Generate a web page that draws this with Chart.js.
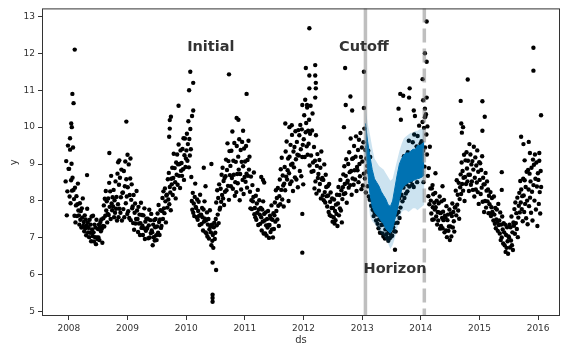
<!DOCTYPE html>
<html>
<head>
<meta charset="utf-8">
<script src="https://cdn.jsdelivr.net/npm/chart.js@4.4.0/dist/chart.umd.min.js"></script>
<style>
  html, body { margin: 0; padding: 0; background: #fff; }
  canvas { display: block; }
</style>
</head>
<body>
<canvas id="cv" width="564" height="349"></canvas>
<script>
// observed y, one row per month, readings spread through the month
const obsDec2007 = [8.53, 9.08, 7.61, 8.26, 9.5, 8.87];
const obs2008 = [
  [8.87, 8.12, 9.39, 7.94, 8.56, 9.01, 8.28, 8.63, 9.45, 8.3],
  [8.05, 7.6, 8.36, 7.42, 7.88, 8.13, 7.59, 7.91, 8.47, 7.74],
  [7.61, 7.36, 7.94, 7.49, 7.73, 7.28, 7.8, 7.55, 8.07, 7.32],
  [7.43, 7.18, 7.61, 7.26, 7.5, 7.07, 7.34, 7.79, 7.42, 7.15],
  [7.27, 7.02, 7.49, 7.14, 7.36, 6.91, 7.58, 7.23, 7.05, 7.6],
  [7.15, 6.9, 7.36, 7.02, 7.28, 6.83, 7.49, 7.01, 6.97, 7.24],
  [7.01, 7.36, 6.94, 7.29, 7.43, 7.18, 7.5, 7.25, 6.87, 7.32],
  [7.53, 7.88, 7.31, 8.06, 7.6, 8.27, 7.74, 7.99, 7.42, 7.65],
  [8.07, 7.62, 8.49, 7.84, 8.26, 7.51, 8.68, 7.93, 7.75, 8.1],
  [7.85, 8.3, 7.56, 8.02, 7.68, 8.53, 7.79, 8.11, 7.47, 8.74],
  [7.91, 7.56, 8.44, 7.79, 8.63, 7.68, 8.1, 8.85, 7.47, 8.22],
  [8.23, 7.78, 8.81, 7.56, 8.4, 9.07, 7.94, 8.59, 8.12, 7.65]
];
const obs2009 = [
  [8.37, 7.72, 8.99, 7.54, 8.16, 8.61, 7.48, 8.03, 8.45, 7.8],
  [7.85, 7.4, 8.16, 7.22, 7.68, 7.93, 7.39, 7.51, 8.27, 7.74],
  [7.51, 7.16, 7.84, 7.39, 7.63, 7.08, 7.4, 7.95, 7.27, 7.62],
  [7.33, 7.08, 7.61, 7.26, 7.8, 6.97, 7.44, 7.19, 7.52, 7.25],
  [7.27, 7.52, 6.99, 7.34, 7.76, 7.01, 7.48, 7.13, 7.65, 7.2],
  [7.15, 6.8, 7.36, 7.02, 7.48, 6.93, 7.29, 7.51, 7.07, 6.94],
  [7.31, 7.66, 7.14, 7.89, 7.43, 7.08, 7.5, 7.75, 7.27, 7.32],
  [7.73, 8.08, 7.51, 8.26, 7.8, 7.67, 8.34, 7.99, 7.42, 8.15],
  [8.17, 7.82, 8.59, 8.04, 8.76, 7.91, 8.38, 8.23, 7.75, 8.6],
  [8.45, 8.9, 8.16, 8.62, 9.28, 8.33, 8.89, 8.51, 8.07, 9.04],
  [8.71, 9.26, 8.44, 8.99, 9.53, 8.68, 9.0, 8.35, 9.37, 8.82],
  [9.03, 8.68, 9.41, 8.86, 9.7, 8.57, 9.24, 9.69, 8.92, 9.15]
];
const obs2010 = [
  [9.37, 9.82, 9.09, 9.54, 10.16, 8.91, 9.68, 9.23, 9.95, 9.4],
  [8.65, 8.0, 7.76, 8.22, 7.68, 7.93, 7.59, 8.11, 8.47, 7.84],
  [7.81, 7.56, 8.04, 7.49, 7.73, 7.98, 7.6, 7.35, 8.17, 7.62],
  [7.63, 7.38, 7.81, 7.56, 7.2, 7.77, 7.44, 7.99, 7.52, 7.15],
  [7.47, 7.12, 7.69, 7.04, 7.36, 7.51, 6.98, 7.23, 7.75, 7.3],
  [7.15, 6.8, 7.36, 6.92, 7.08, 6.73, 7.29, 7.41, 6.97, 7.14],
  [7.51, 7.96, 7.34, 8.29, 7.63, 8.08, 7.4, 8.45, 7.77, 7.82],
  [8.33, 7.98, 8.71, 8.16, 8.9, 8.07, 8.54, 7.89, 8.62, 8.25],
  [8.67, 9.12, 8.29, 8.84, 9.56, 8.41, 9.08, 8.03, 9.35, 8.7],
  [8.95, 8.4, 9.36, 8.62, 9.88, 8.33, 9.09, 8.71, 9.57, 8.14],
  [8.51, 9.06, 8.24, 9.49, 8.73, 8.48, 9.2, 8.85, 9.67, 8.02],
  [8.73, 9.38, 8.31, 9.06, 9.6, 8.57, 8.94, 8.19, 9.42, 8.65]
];
const obs2011 = [
  [9.07, 8.52, 9.49, 8.74, 8.36, 9.11, 8.68, 9.63, 8.85, 9.2],
  [8.25, 7.8, 8.66, 8.02, 7.78, 8.43, 7.99, 8.11, 8.77, 7.64],
  [7.81, 7.56, 8.14, 7.49, 7.93, 7.68, 8.3, 7.35, 7.77, 8.02],
  [7.63, 7.38, 7.81, 7.56, 7.2, 7.77, 7.44, 7.99, 7.12, 7.65],
  [7.47, 7.12, 7.69, 7.34, 7.06, 7.51, 7.28, 7.73, 7.35, 7.0],
  [7.35, 7.6, 7.16, 7.52, 7.88, 7.23, 7.49, 7.01, 7.67, 7.24],
  [7.61, 7.96, 7.44, 8.29, 7.73, 8.08, 7.5, 8.35, 7.87, 7.32],
  [8.13, 8.58, 7.91, 8.86, 8.3, 9.17, 8.04, 8.69, 8.42, 7.85],
  [8.47, 8.92, 8.29, 9.34, 8.66, 9.61, 8.58, 8.83, 9.15, 8.0],
  [8.75, 9.2, 8.46, 9.52, 8.98, 8.53, 9.79, 9.01, 8.27, 9.34],
  [8.91, 9.46, 8.64, 9.89, 9.13, 8.58, 9.6, 9.25, 8.37, 9.92],
  [9.23, 9.78, 8.81, 10.06, 9.4, 8.67, 9.94, 9.19, 9.52, 8.45]
];
const obs2012 = [
  [9.67, 10.32, 9.19, 10.74, 9.86, 10.11, 9.48, 10.53, 9.25, 9.9],
  [9.55, 10.2, 8.96, 9.82, 10.58, 9.23, 8.79, 9.91, 10.37, 9.04],
  [8.81, 9.46, 8.34, 9.09, 8.53, 9.78, 8.2, 8.95, 9.27, 8.62],
  [8.73, 8.28, 9.11, 8.46, 8.9, 8.07, 9.34, 8.59, 8.62, 8.15],
  [8.57, 8.02, 8.99, 8.24, 7.96, 8.71, 8.38, 8.13, 7.85, 8.4],
  [8.15, 7.7, 8.46, 7.62, 7.98, 8.23, 7.59, 7.81, 8.07, 7.44],
  [7.81, 7.56, 8.04, 7.39, 7.73, 7.48, 7.9, 7.65, 8.17, 7.32],
  [7.93, 8.38, 7.61, 8.16, 7.8, 8.57, 7.74, 8.29, 7.42, 8.05],
  [8.37, 8.72, 8.19, 8.94, 8.46, 8.21, 8.68, 9.13, 7.95, 8.5],
  [8.55, 9.0, 8.36, 9.32, 8.78, 8.43, 9.69, 8.81, 8.17, 9.14],
  [8.61, 9.16, 8.44, 9.49, 8.83, 8.58, 9.2, 9.75, 8.27, 8.92],
  [8.83, 9.38, 8.51, 9.66, 9.0, 8.67, 9.84, 9.19, 8.32, 9.45]
];
const obs2013 = [
  [9.07, 8.42, 9.59, 8.74, 9.96, 8.61, 9.38, 8.23, 9.15, 8.8],
  [8.95, 8.4, 9.36, 8.12, 8.78, 8.03, 9.19, 8.51, 7.87, 8.34],
  [8.01, 7.76, 8.34, 7.59, 7.93, 7.68, 8.2, 7.85, 7.47, 8.12],
  [7.63, 7.38, 7.81, 7.26, 7.5, 7.77, 7.14, 7.49, 7.92, 7.35],
  [7.47, 7.12, 7.69, 7.04, 7.36, 7.51, 6.98, 7.23, 7.75, 7.1],
  [7.25, 7.0, 7.46, 6.92, 7.18, 7.33, 6.99, 7.11, 7.57, 7.04],
  [7.31, 7.06, 7.54, 7.29, 7.63, 7.18, 7.4, 7.75, 7.17, 7.82],
  [7.63, 7.98, 7.41, 8.26, 7.7, 8.07, 7.54, 8.49, 7.82, 8.15],
  [8.17, 8.62, 7.99, 8.94, 8.36, 9.21, 8.08, 8.53, 8.75, 8.2],
  [8.45, 8.9, 8.26, 9.32, 8.68, 9.63, 8.39, 8.81, 9.07, 8.54],
  [8.71, 9.26, 8.44, 9.59, 8.93, 8.38, 9.8, 9.05, 8.67, 9.32],
  [8.83, 9.48, 8.51, 9.76, 9.1, 8.67, 10.04, 9.29, 8.92, 9.55]
];
const obs2014 = [
  [9.17, 9.62, 8.79, 10.14, 9.36, 8.51, 9.98, 8.93, 9.45, 10.3],
  [10.35, 9.8, 9.26, 10.02, 8.68, 8.13, 8.89, 7.91, 9.47, 8.34],
  [8.01, 7.66, 8.34, 7.49, 7.83, 8.18, 7.5, 7.95, 7.77, 8.22],
  [7.83, 7.58, 8.01, 7.36, 7.7, 7.47, 7.94, 7.69, 8.12, 7.25],
  [7.67, 7.32, 7.99, 7.54, 7.26, 7.71, 7.48, 8.03, 7.15, 7.6],
  [7.55, 7.2, 7.86, 7.02, 7.48, 7.63, 7.19, 7.31, 7.77, 6.94],
  [7.31, 7.66, 7.04, 7.59, 7.93, 7.28, 7.7, 7.45, 7.17, 7.82],
  [7.83, 8.28, 7.61, 8.56, 7.9, 8.17, 7.74, 8.49, 7.52, 8.05],
  [8.37, 8.72, 8.19, 9.04, 8.46, 8.81, 8.28, 8.63, 9.25, 8.0],
  [8.65, 9.1, 8.46, 9.32, 8.88, 8.53, 9.09, 8.71, 8.27, 9.54],
  [8.71, 9.26, 8.44, 8.99, 8.53, 9.08, 8.3, 8.85, 9.47, 8.12],
  [8.63, 9.18, 8.31, 8.96, 8.5, 9.37, 8.24, 8.79, 7.92, 9.05]
];
const obs2015 = [
  [8.57, 9.02, 8.19, 8.84, 8.36, 9.21, 7.98, 8.63, 8.45, 7.7],
  [8.45, 8.0, 8.76, 7.82, 8.28, 8.53, 7.99, 8.31, 7.67, 8.14],
  [7.91, 7.66, 8.24, 7.59, 7.83, 8.08, 7.7, 7.65, 7.47, 8.12],
  [7.63, 7.38, 7.81, 7.26, 7.5, 7.77, 7.44, 7.19, 7.92, 7.35],
  [7.47, 7.12, 7.69, 6.94, 7.36, 7.01, 7.58, 7.23, 6.85, 7.4],
  [7.15, 6.8, 7.36, 6.62, 7.08, 6.73, 7.29, 6.91, 6.57, 7.04],
  [7.01, 7.36, 6.74, 7.29, 6.93, 7.58, 6.8, 7.15, 6.67, 7.42],
  [7.33, 7.78, 7.11, 7.96, 7.4, 7.67, 7.24, 8.09, 7.02, 7.55],
  [7.87, 8.22, 7.69, 8.54, 7.96, 8.31, 7.78, 8.13, 7.45, 8.6],
  [8.15, 7.7, 8.56, 7.92, 8.38, 7.53, 8.79, 8.01, 7.37, 8.84],
  [8.31, 7.86, 8.74, 8.09, 8.53, 7.68, 8.9, 8.25, 7.47, 9.12],
  [8.43, 8.98, 8.01, 9.26, 8.6, 7.77, 9.04, 8.39, 7.32, 8.75]
];
const obsJan2016 = [8.57, 7.92, 9.09, 8.24, 7.66, 8.81, 8.38];

// isolated readings away from the main cloud: [date as year, y]
const spikes = [
  [2008.02, 9.7], [2008.04, 10.1], [2008.05, 10.0], [2008.06, 10.9], [2008.08, 10.65], [2008.1, 12.1],
  [2008.31, 8.7], [2008.69, 9.3], [2008.84, 9.05], [2008.86, 9.1], [2008.98, 10.15], [2009.0, 9.25], [2009.05, 9.15],
  [2009.71, 9.74], [2009.72, 9.96], [2009.72, 10.19], [2009.74, 10.28], [2009.87, 10.58],
  [2010.05, 11.0], [2010.07, 11.5], [2010.12, 11.2], [2010.12, 10.45], [2010.1, 10.3],
  [2010.3, 8.9], [2010.33, 8.4], [2010.43, 9.0], [2010.45, 6.33], [2010.51, 6.13],
  [2010.45, 5.46], [2010.45, 5.37], [2010.45, 5.27],
  [2010.73, 11.43], [2010.86, 10.25], [2010.89, 10.2], [2010.97, 9.9], [2011.03, 10.9],
  [2011.28, 8.65], [2011.31, 8.57], [2011.33, 8.5],
  [2011.69, 10.1], [2011.76, 10.0], [2011.8, 10.05], [2011.98, 10.6], [2011.98, 7.65], [2011.98, 6.6],
  [2012.04, 11.6], [2012.06, 10.6], [2012.1, 12.68], [2012.1, 11.4], [2012.1, 11.05],
  [2012.2, 11.68], [2012.2, 11.4], [2012.21, 11.2], [2012.21, 11.05], [2012.2, 10.8],
  [2012.69, 10.0], [2012.71, 11.6], [2012.72, 10.6], [2012.8, 10.83], [2012.83, 10.45],
  [2013.03, 11.5], [2013.03, 10.52],
  [2013.56, 6.68], [2013.62, 10.5], [2013.65, 10.9], [2013.66, 10.2], [2013.7, 10.85],
  [2013.8, 10.8], [2013.81, 11.05], [2013.88, 10.45], [2013.9, 10.3],
  [2014.03, 11.3], [2014.04, 10.73], [2014.07, 12.0], [2014.07, 10.5], [2014.07, 10.27],
  [2014.1, 12.86], [2014.1, 11.77], [2014.1, 10.8],
  [2014.2, 8.43], [2014.25, 8.75], [2014.37, 8.4],
  [2014.68, 10.71], [2014.69, 10.1], [2014.7, 9.85], [2014.72, 10.0], [2014.8, 11.29],
  [2015.05, 10.7], [2015.05, 9.9], [2015.09, 10.28],
  [2015.38, 8.78], [2015.38, 8.3],
  [2015.71, 9.74], [2015.75, 9.54], [2015.77, 9.1], [2015.84, 9.6], [2015.86, 9.3],
  [2015.92, 12.15], [2015.92, 11.53], [2016.02, 9.3], [2016.05, 10.32]
];

// cross-validation window and forecast (biweekly readings from cutoff to horizon)
const firstDay = 2007.94;
const lastDay = 2016.055;
const cutoff = 2013.056;
const horizon = 2014.06;
const yhatHigh = [10.1, 9.6, 9.2, 8.85, 8.6, 8.5, 8.4, 8.25, 8.15, 8.05, 7.9, 7.85, 8.0, 8.35,
                  8.7, 9.0, 9.15, 9.25, 9.3, 9.3, 9.35, 9.4, 9.4, 9.5, 9.5, 9.55, 9.6];
const yhatLow = [9.5, 8.8, 8.2, 7.85, 7.7, 7.62, 7.55, 7.45, 7.38, 7.25, 7.18, 7.13, 7.25, 7.5,
                 7.75, 8.05, 8.3, 8.4, 8.45, 8.5, 8.52, 8.55, 8.58, 8.6, 8.62, 8.65, 8.7];
const bandHigh = [10.55, 10.1, 9.8, 9.45, 9.15, 9.05, 8.95, 8.9, 8.85, 8.75, 8.65, 8.55, 8.6, 8.85,
                  9.1, 9.35, 9.55, 9.7, 9.75, 9.8, 9.85, 9.85, 9.9, 9.9, 9.95, 9.95, 10.0];
const bandLow = [9.1, 8.2, 7.6, 7.45, 7.38, 7.3, 7.2, 7.1, 7.05, 6.95, 6.85, 6.7, 6.8, 7.0,
                 7.25, 7.5, 7.7, 7.75, 7.75, 7.7, 7.75, 7.8, 7.8, 7.75, 7.8, 7.85, 7.9];

const xTicks = [2008, 2009, 2010, 2011, 2012, 2013, 2014, 2015, 2016];
const yTicks = [5, 6, 7, 8, 9, 10, 11, 12, 13];
const notes = [
  { text: 'Initial', x: 2010.42, y: 12.16 },
  { text: 'Cutoff', x: 2013.03, y: 12.16 },
  { text: 'Horizon', x: 2013.56, y: 6.14 }
];

// build point lists
const observed = [];
obsDec2007.forEach((v, k) => {
  observed.push({ x: firstDay + (k + 0.5) / obsDec2007.length * (2008 - firstDay), y: v });
});
[[2008, obs2008], [2009, obs2009], [2010, obs2010], [2011, obs2011],
 [2012, obs2012], [2013, obs2013], [2014, obs2014], [2015, obs2015]].forEach(([year, rows]) => {
  rows.forEach((row, m) => {
    row.forEach((v, k) => {
      observed.push({ x: year + (m + (k + 0.5) / row.length) / 12, y: v });
    });
  });
});
obsJan2016.forEach((v, k) => {
  observed.push({ x: 2016 + (k + 0.5) / obsJan2016.length * (lastDay - 2016), y: v });
});
spikes.forEach(([d, v]) => observed.push({ x: d, y: v }));

const fcDate = i => cutoff + i * (horizon - cutoff) / (yhatHigh.length - 1);
const toPts = arr => arr.map((v, i) => ({ x: fcDate(i), y: v }));

const overlay = {
  id: 'overlay',
  afterDatasetsDraw(chart) {
    const { ctx, chartArea: a, scales: { x, y } } = chart;
    ctx.save();
    ctx.strokeStyle = 'rgba(128,128,128,0.5)';
    ctx.lineWidth = 3.5;
    let px = x.getPixelForValue(cutoff);
    ctx.beginPath(); ctx.moveTo(px, a.top); ctx.lineTo(px, a.bottom); ctx.stroke();
    ctx.setLineDash([14, 6]);
    px = x.getPixelForValue(horizon);
    ctx.beginPath(); ctx.moveTo(px, a.top); ctx.lineTo(px, a.bottom); ctx.stroke();
    ctx.setLineDash([]);

    ctx.font = 'bold 14.5px "DejaVu Sans"';
    ctx.fillStyle = '#333';
    ctx.textAlign = 'center';
    ctx.textBaseline = 'middle';
    notes.forEach(n => ctx.fillText(n.text, x.getPixelForValue(n.x), y.getPixelForValue(n.y)));

    ctx.strokeStyle = '#333';
    ctx.lineWidth = 1;
    ctx.strokeRect(a.left + 0.5, a.top + 0.5, a.right - a.left - 1, a.bottom - a.top - 1);
    ctx.restore();
  }
};

const tickFont = { family: 'DejaVu Sans', size: 9 };

new Chart('cv', {
  type: 'line',
  data: {
    datasets: [
      { data: toPts(bandHigh), borderWidth: 0, pointRadius: 0, fill: false, order: 1 },
      { data: toPts(bandLow), borderWidth: 0, pointRadius: 0, fill: '-1',
        backgroundColor: 'rgba(0,114,178,0.2)', order: 1 },
      { data: toPts(yhatHigh), borderColor: '#0072B2', borderWidth: 1, pointRadius: 0, fill: false, order: 2 },
      { data: toPts(yhatLow), borderColor: '#0072B2', borderWidth: 1, pointRadius: 0, fill: '-1',
        backgroundColor: '#0072B2', order: 2 },
      { data: observed, showLine: false, pointRadius: 2.2, pointBorderWidth: 0,
        pointBackgroundColor: '#000', order: 3 }
    ]
  },
  options: {
    responsive: false,
    animation: false,
    events: [],
    layout: { padding: { top: 8, right: 1, bottom: 0, left: 0 } },
    plugins: { legend: { display: false }, tooltip: { enabled: false } },
    scales: {
      x: {
        type: 'linear',
        min: 2007.542,
        max: 2016.373,
        afterBuildTicks: s => { s.ticks = xTicks.map(v => ({ value: v })); },
        afterFit: s => { s.height = 33; },
        ticks: { autoSkip: false, maxRotation: 0, padding: 3, color: '#333', font: tickFont,
                 callback: v => String(v) },
        grid: { drawOnChartArea: false, tickLength: 4, color: '#333' },
        border: { display: false },
        title: { display: true, text: 'ds', color: '#333',
                 font: { family: 'DejaVu Sans', size: 10 }, padding: { top: 0, bottom: 3 } }
      },
      y: {
        type: 'linear',
        min: 4.884,
        max: 13.216,
        afterBuildTicks: s => { s.ticks = yTicks.map(v => ({ value: v })); },
        afterFit: s => { s.width = 42; },
        ticks: { padding: 3, color: '#333', font: tickFont, callback: v => String(v) },
        grid: { drawOnChartArea: false, tickLength: 4, color: '#333' },
        border: { display: false },
        title: { display: true, text: 'y', color: '#333',
                 font: { family: 'DejaVu Sans', size: 10 }, padding: { top: 8, bottom: 0 } }
      }
    }
  },
  plugins: [overlay]
});
</script>
</body>
</html>
